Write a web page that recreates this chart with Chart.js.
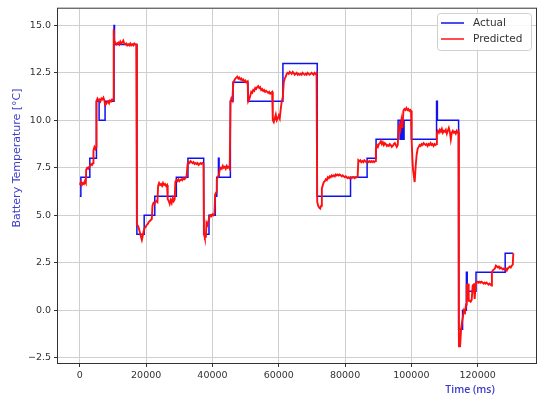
<!DOCTYPE html>
<html lang="en">
<head>
    <meta charset="UTF-8">
    <title>Battery Temperature - Actual vs Predicted</title>
    <script src="https://cdn.jsdelivr.net/npm/chart.js@4.4.1/dist/chart.umd.min.js"></script>
    <style>
        body { margin: 0; background: #fff; }
        #wrap { width: 551px; height: 403px; }
    </style>
</head>
<body>
    <div id="wrap"><canvas id="tempChart" width="551" height="403"></canvas></div>

    <script>
        // tick positions
        const xTicks = [0, 20000, 40000, 60000, 80000, 100000, 120000];
        const yTicks = [-2.5, 0, 2.5, 5, 7.5, 10, 12.5, 15];

        // Actual: step changes [time ms, temp °C]
        const actualSteps = [
            [0, 6], [300, 7], [3000, 8], [5000, 11], [5800, 10], [7600, 11], [10300, 15], [10450, 14],
            [17200, 4], [19400, 5], [22600, 6], [29100, 7], [32600, 8], [37350, 4], [38950, 5],
            [40850, 6], [41300, 7], [41800, 8], [42000, 7], [45400, 11], [46200, 12], [50700, 11],
            [61250, 13], [71600, 6], [81650, 7], [86650, 8], [89350, 9], [96000, 10], [96600, 9],
            [97000, 10], [97400, 9], [97800, 10], [100000, 9], [107600, 11], [107850, 10],
            [114250, -1], [115450, 0], [116600, 2], [116850, 1], [119500, 2], [128300, 3], [130700, 3]
        ];

        // Predicted: [time ms, temp °C]
        const predictedPoints = [
            [0, 6.6], [300, 6.75], [600, 6.6], [900, 6.7], [1200, 6.65], [1500, 6.8], [1800, 6.7],
            [1900, 7.4], [2200, 7.5], [2500, 7.45], [2800, 7.55], [3100, 7.6], [3400, 7.7], [3700, 7.65], [4000, 7.75],
            [4100, 8.4], [4400, 8.6], [4700, 8.5], [4900, 8.6],
            [5000, 11.0], [5300, 11.15], [5600, 11.05], [5900, 11.1], [6200, 11.0], [6500, 11.15], [6800, 11.1],
            [7100, 11.2], [7400, 11.05], [7600, 10.8], [7900, 10.85], [8200, 10.95], [8500, 11.0], [8800, 10.9],
            [9100, 11.05], [9400, 11.0], [9700, 11.1], [10000, 11.05],
            [10200, 14.8], [10400, 14.05], [10700, 14.1], [11000, 14.0], [11300, 14.05], [11600, 14.1], [11900, 14.0],
            [12200, 14.15], [12500, 14.05], [12800, 14.1], [13100, 14.2], [13400, 14.05], [13700, 14.0], [14000, 14.05],
            [14300, 13.95], [14600, 14.0], [14900, 13.95], [15200, 14.05], [15500, 13.95], [15800, 14.0], [16100, 13.95],
            [16400, 14.05], [16700, 14.0], [17000, 14.0],
            [17200, 4.5], [17500, 4.45], [17800, 4.3], [18100, 4.1], [18400, 3.9], [18700, 3.7], [19000, 3.95],
            [19300, 4.2], [19600, 4.35], [19900, 4.4], [20200, 4.5], [20500, 4.55], [20800, 4.65], [21100, 4.7],
            [21400, 4.75], [21700, 4.8],
            [21900, 5.5], [22200, 5.65], [22500, 5.6], [22800, 5.7], [23100, 5.75], [23400, 5.7],
            [23600, 6.55], [23900, 6.7], [24200, 6.6], [24500, 6.65], [24800, 6.55], [25100, 6.7], [25400, 6.6],
            [25700, 6.65], [26000, 6.55], [26300, 6.6],
            [26500, 5.85], [26800, 5.75], [27100, 5.6], [27400, 5.8], [27700, 5.65], [28000, 5.9], [28300, 5.75], [28600, 5.85],
            [28800, 6.75], [29100, 6.85], [29400, 6.8], [29700, 6.9], [30000, 6.8], [30300, 6.85], [30600, 6.9],
            [30900, 6.85], [31200, 6.95], [31500, 6.9], [31800, 6.95], [32200, 7.05],
            [32500, 7.7], [32800, 7.8], [33100, 7.75], [33400, 7.85], [33700, 7.8], [34000, 7.75], [34300, 7.8],
            [34600, 7.7], [34900, 7.75], [35200, 7.7], [35500, 7.75], [35800, 7.65], [36100, 7.7], [36400, 7.75],
            [36700, 7.7], [37000, 7.75], [37300, 7.7],
            [37450, 4.0], [37700, 3.8], [38000, 3.85], [38200, 4.6], [38500, 4.5], [38800, 4.7], [39100, 4.9],
            [39400, 5.0], [39700, 4.95], [40000, 5.05], [40300, 5.0], [40600, 5.1],
            [40800, 6.1], [41100, 6.2], [41300, 6.9], [41600, 7.0], [41900, 7.1],
            [42200, 7.4], [42500, 7.5], [42800, 7.45], [43100, 7.6], [43400, 7.5], [43700, 7.55], [44000, 7.45],
            [44300, 7.6], [44600, 7.5], [44900, 7.55], [45200, 7.45],
            [45450, 11.0], [45700, 11.15], [46000, 11.05],
            [46300, 12.0], [46600, 12.1], [46900, 12.2], [47200, 12.25], [47500, 12.3], [47800, 12.2], [48100, 12.25],
            [48400, 12.15], [48700, 12.2], [49000, 12.1], [49300, 12.15], [49600, 12.05], [49900, 12.1], [50200, 12.0], [50600, 12.05],
            [50800, 11.0], [51100, 11.1], [51400, 11.3], [51700, 11.5], [52000, 11.45], [52300, 11.6], [52600, 11.55],
            [52900, 11.7], [53200, 11.65], [53500, 11.75], [53800, 11.8], [54100, 11.7], [54400, 11.75], [54700, 11.6],
            [55000, 11.65], [55300, 11.55], [55600, 11.6], [55900, 11.5], [56200, 11.55], [56500, 11.5], [56800, 11.45],
            [57100, 11.5], [57400, 11.4], [57700, 11.45], [58000, 11.5],
            [58200, 10.0], [58500, 9.9], [58800, 10.1], [59100, 10.3], [59400, 10.0], [59700, 10.1], [60000, 10.25],
            [60300, 10.1], [60600, 10.6], [60900, 11.0], [61200, 11.2],
            [61500, 12.0], [61800, 12.2], [62100, 12.3], [62400, 12.45], [62700, 12.5], [63000, 12.45], [63300, 12.55],
            [63600, 12.5], [63900, 12.45], [64200, 12.55], [64500, 12.5], [64800, 12.4], [65100, 12.45], [65400, 12.5],
            [65700, 12.4], [66000, 12.45], [66300, 12.4], [66600, 12.45], [66900, 12.4], [67200, 12.5], [67500, 12.45],
            [67800, 12.4], [68100, 12.45], [68400, 12.4], [68700, 12.5], [69000, 12.45], [69300, 12.4], [69600, 12.45],
            [69900, 12.5], [70200, 12.45], [70500, 12.4], [70800, 12.5], [71100, 12.45], [71400, 12.5],
            [71600, 5.7], [71900, 5.5], [72200, 5.4], [72500, 5.35], [72800, 5.5],
            [73000, 6.4], [73300, 6.6], [73600, 6.75], [73900, 6.8], [74200, 6.9], [74500, 6.85], [74800, 7.0],
            [75100, 6.95], [75400, 7.05], [75700, 7.0], [76000, 7.1], [76300, 7.05], [76600, 7.1], [76900, 7.05],
            [77200, 7.15], [77500, 7.1], [77800, 7.15], [78100, 7.1], [78400, 7.15], [78700, 7.1], [79000, 7.05],
            [79300, 7.1], [79600, 7.05], [79900, 7.0], [80200, 7.05], [80500, 7.0], [80800, 6.95], [81100, 7.0],
            [81400, 6.95], [81700, 7.0], [82000, 6.95], [82300, 7.0], [82600, 7.0], [82900, 6.95], [83200, 7.0],
            [83500, 7.0], [83800, 7.05],
            [84000, 7.9], [84300, 7.85], [84600, 7.9], [84900, 7.8], [85200, 7.85], [85500, 7.8], [85800, 7.9],
            [86100, 7.85], [86400, 7.8], [86700, 7.85], [87000, 7.8], [87300, 7.85], [87600, 7.8], [87900, 7.85],
            [88200, 7.8], [88500, 7.85], [88800, 7.8], [89100, 7.85],
            [89300, 8.5], [89600, 8.7], [89900, 8.6], [90200, 8.75], [90500, 8.8], [90800, 8.9], [91100, 8.75],
            [91400, 8.85], [91700, 8.7], [92000, 8.8], [92300, 8.75], [92600, 8.65], [92900, 8.7], [93200, 8.65],
            [93500, 8.75], [93800, 8.7], [94100, 8.6], [94400, 8.65], [94700, 8.75], [95000, 8.8], [95300, 8.7],
            [95600, 8.6], [95900, 8.7],
            [96100, 9.4], [96400, 9.7], [96700, 9.5], [97000, 10.0], [97300, 9.6],
            [97600, 10.5], [97900, 10.6], [98200, 10.55], [98500, 10.65], [98800, 10.55], [99100, 10.6], [99400, 10.5],
            [99700, 10.55], [99900, 10.5],
            [100100, 8.9], [100300, 8.0], [100500, 7.4], [100800, 7.0], [101000, 6.75], [101300, 7.6], [101600, 8.2],
            [101900, 8.5], [102200, 8.6], [102500, 8.7], [102800, 8.65], [103100, 8.75], [103400, 8.7], [103700, 8.8],
            [104000, 8.75], [104300, 8.7], [104600, 8.75], [104900, 8.65], [105200, 8.75], [105500, 8.7], [105800, 8.8],
            [106100, 8.7], [106400, 8.75], [106700, 8.65], [107000, 8.75], [107300, 8.7], [107600, 8.75],
            [107700, 9.3], [108000, 9.45], [108300, 9.35], [108600, 9.5], [108900, 9.4], [109200, 9.55], [109500, 9.35],
            [109800, 9.45], [110100, 9.4], [110400, 9.5], [110700, 9.3], [111000, 9.45], [111300, 9.6], [111600, 9.4],
            [111900, 9.0], [112200, 9.35], [112500, 9.45], [112800, 9.35], [113100, 9.4], [113400, 9.3], [113700, 9.45],
            [114000, 9.35], [114200, 9.4],
            [114350, -1.9], [114700, -1.9], [115000, -1.0], [115300, -0.6], [115600, -0.3], [115900, 0.0], [116200, -0.1],
            [116500, 0.3], [116700, 1.4], [116900, 0.9], [117100, 1.4], [117300, 0.5], [117600, 0.5], [117900, 0.45],
            [118200, 0.55], [118500, 1.3], [118800, 1.35], [119100, 0.6], [119400, 1.4],
            [119700, 1.45], [120000, 1.5], [120300, 1.45], [120600, 1.5], [120900, 1.45], [121200, 1.5], [121500, 1.45],
            [121800, 1.4], [122100, 1.45], [122400, 1.4], [122700, 1.45], [123000, 1.4], [123300, 1.35], [123600, 1.4],
            [123900, 1.35], [124200, 1.3],
            [124300, 2.0], [124600, 2.1], [124900, 2.15], [125200, 2.2], [125500, 2.35], [125800, 2.3], [126100, 2.25],
            [126400, 2.3], [126700, 2.2], [127000, 2.25], [127300, 2.2], [127600, 2.15], [127900, 2.2], [128200, 2.15],
            [128500, 2.2], [128800, 2.1], [129100, 2.2], [129400, 2.25], [129700, 2.3], [130000, 2.25], [130300, 2.35],
            [130600, 2.4], [130750, 3.0]
        ];

        const blue = '#1010f0';
        const red = '#ff1010';
        const labelBlue = '#3c3cc8';

        // frame, axis titles and legend box in the matplotlib style
        const decorPlugin = {
            id: 'decor',
            afterDraw(chart) {
                const ctx = chart.ctx;
                const a = chart.chartArea;
                ctx.save();
                ctx.strokeStyle = '#333';
                ctx.lineWidth = 1;
                ctx.strokeRect(a.left - 0.5, a.top - 0.5, a.right - a.left + 1, a.bottom - a.top + 1);

                ctx.fillStyle = labelBlue;
                ctx.font = '11px "DejaVu Sans"';
                ctx.textAlign = 'center';
                ctx.textBaseline = 'middle';
                ctx.save();
                ctx.translate(17, 158);
                ctx.rotate(-Math.PI / 2);
                ctx.fillText('Battery Temperature [°C]', 0, 0);
                ctx.restore();

                ctx.font = '600 10.5px "Open Sans"';
                ctx.fillText('Time (ms)', 470, 390);

                // legend
                const lx = 437, ly = 13, lw = 94, lh = 37;
                ctx.fillStyle = 'rgba(255,255,255,0.85)';
                ctx.strokeStyle = '#d0d0d0';
                ctx.beginPath();
                ctx.roundRect(lx + 0.5, ly + 0.5, lw, lh, 3);
                ctx.fill();
                ctx.stroke();
                const items = [['Actual', blue, 23], ['Predicted', red, 39]];
                ctx.font = '10.5px "DejaVu Sans"';
                ctx.textAlign = 'left';
                items.forEach(([text, color, y]) => {
                    ctx.strokeStyle = color;
                    ctx.lineWidth = 1.5;
                    ctx.beginPath();
                    ctx.moveTo(441, y);
                    ctx.lineTo(464, y);
                    ctx.stroke();
                    ctx.fillStyle = '#333';
                    ctx.fillText(text, 473, y);
                });
                ctx.restore();
            }
        };

        const ctx = document.getElementById('tempChart').getContext('2d');
        new Chart(ctx, {
            type: 'line',
            data: {
                datasets: [{
                    label: 'Actual',
                    data: actualSteps.map(p => ({ x: p[0], y: p[1] })),
                    borderColor: blue,
                    borderWidth: 1.5,
                    stepped: true,
                    pointRadius: 0,
                    order: 1
                }, {
                    label: 'Predicted',
                    data: predictedPoints.map(p => ({ x: p[0], y: p[1] })),
                    borderColor: red,
                    borderWidth: 1.9,
                    pointRadius: 0,
                    tension: 0,
                    order: 0
                }]
            },
            options: {
                responsive: false,
                animation: false,
                layout: { padding: { top: 8, right: 15, left: 0, bottom: 0 } },
                plugins: {
                    legend: { display: false },
                    tooltip: { enabled: false }
                },
                scales: {
                    x: {
                        type: 'linear',
                        min: -6600,
                        max: 137600,
                        afterFit(scale) { scale.height = 40; },
                        afterBuildTicks(scale) { scale.ticks = xTicks.map(v => ({ value: v })); },
                        grid: { color: '#cfcfcf', tickColor: '#333', tickLength: 4 },
                        border: { display: false },
                        ticks: {
                            color: '#333',
                            padding: 3,
                            maxRotation: 0,
                            autoSkip: false,
                            font: { family: 'DejaVu Sans', size: 9.5 },
                            callback: v => String(v)
                        }
                    },
                    y: {
                        min: -2.78,
                        max: 15.88,
                        afterFit(scale) { scale.width = 58; },
                        afterBuildTicks(scale) { scale.ticks = yTicks.map(v => ({ value: v })); },
                        grid: { color: '#cfcfcf', tickColor: '#333', tickLength: 4 },
                        border: { display: false },
                        ticks: {
                            color: '#333',
                            padding: 3,
                            autoSkip: false,
                            font: { family: 'DejaVu Sans', size: 9.5 },
                            callback: v => v.toFixed(1).replace('-', '\u2212')
                        }
                    }
                }
            },
            plugins: [decorPlugin]
        });
    </script>
</body>
</html>
